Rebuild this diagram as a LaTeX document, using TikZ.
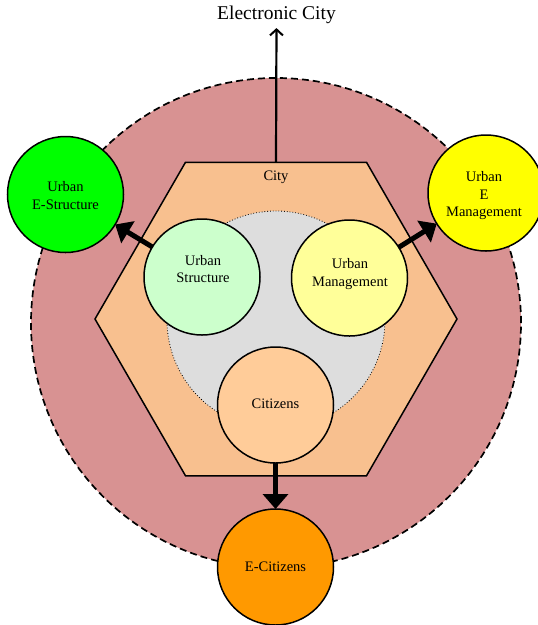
\documentclass[tikz,border=0pt]{standalone}
\usepackage{fontspec}
\setmainfont{Liberation Serif}
\usetikzlibrary{arrows.meta,shapes.geometric}
\definecolor{ringred}{HTML}{D89292}
\definecolor{hexfill}{HTML}{F8C08F}
\definecolor{coregray}{HTML}{DDDDDD}
\definecolor{lgreen}{HTML}{CCFFCC}
\definecolor{lyellow}{HTML}{FFFF99}
\definecolor{lorange}{HTML}{FFCC99}
\definecolor{eorange}{HTML}{FF9900}
\definecolor{egreen}{HTML}{00FF00}
\definecolor{eyellow}{HTML}{FFFF00}
\begin{document}
\begin{tikzpicture}[x=1pt,y=-1pt,
  lbl/.style={align=center, font=\fontsize{14.5}{17.5}\selectfont, inner sep=0pt},
  circ/.style={circle, draw, line width=1.5pt, minimum size=116pt, inner sep=0pt, outer sep=0pt},
  bigarrow/.style={line width=5pt, -{Triangle[length=15pt,width=25pt]}}]
\useasboundingbox (0,0) rectangle (538,625);
% outer ring
\node[circle, draw, dash pattern=on 7pt off 4pt, line width=1.7pt, fill=ringred, minimum size=490pt, inner sep=0pt, outer sep=0pt] (ring) at (276,323) {};
% hexagon
\node[regular polygon, regular polygon sides=6, draw, line width=1.5pt, fill=hexfill, minimum size=362pt, inner sep=0pt, outer sep=0pt] (hex) at (276,319) {};
\node[lbl] (city) at (276,177) {City};
% gray core
\node[circle, draw, dotted, line width=0.8pt, fill=coregray, minimum size=218pt, inner sep=0pt, outer sep=0pt] (core) at (276,320) {};
% inner circles
\node[circ, fill=lgreen] (us) at (202,277) {};
\node[lbl] (ust) at (203,269) {Urban\\Structure};
\node[circ, fill=lyellow] (um) at (349.5,278) {};
\node[lbl] (umt) at (350,274) {Urban\\Management};
\node[circ, fill=lorange] (ci) at (275.5,405) {};
\node[lbl] (cit) at (275.5,404) {Citizens};
% outer circles
\node[circ, fill=egreen] (es) at (65.5,194.5) {};
\node[lbl] (est) at (65.5,195.5) {Urban\\E-Structure};
\node[circ, fill=eyellow] (em) at (486,193) {};
\node[lbl] (emt) at (484,196) {Urban\\E\\Management};
\node[circ, fill=eorange] (ec) at (275.5,567) {};
\node[lbl] (ect) at (275.5,567) {E-Citizens};
% electronic city
\node[font=\fontsize{19.5}{22}\selectfont, inner sep=0pt] (elc) at (276.5,15) {Electronic City};
\draw[line width=2.2pt, -{Straight Barb[length=6pt,width=13pt,line width=2pt]}, shorten >=4pt] (hex.north) -- (elc.south);
% arrows
\draw[bigarrow] (us) -- (es);
\draw[bigarrow] (um) -- (em);
\draw[bigarrow] (ci) -- (ec);
\end{tikzpicture}
\end{document}
